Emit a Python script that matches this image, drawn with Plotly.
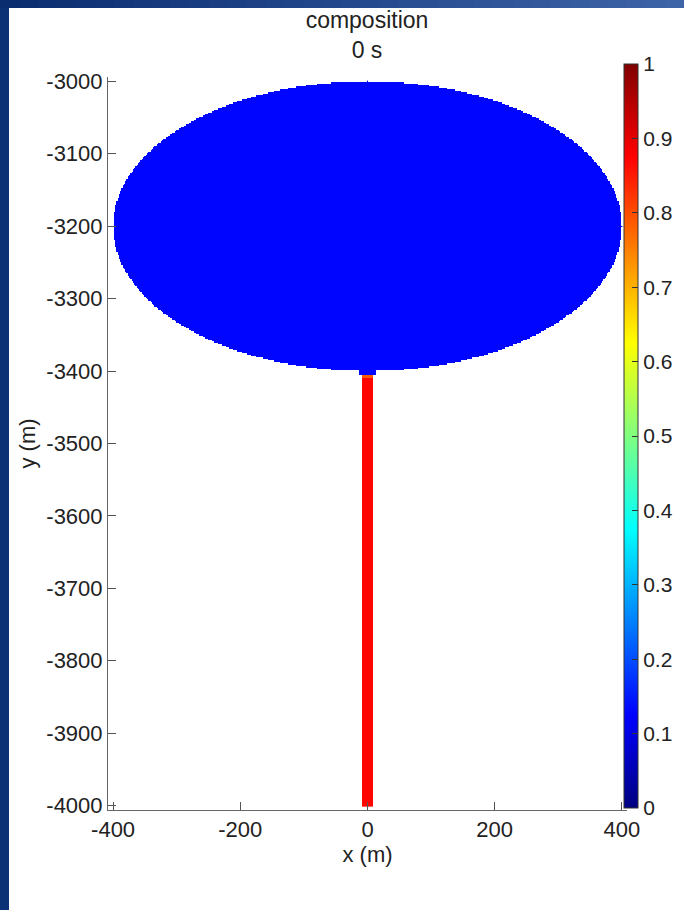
import numpy as np
import plotly.graph_objects as go

# ---- data ----
title_lines = ["composition", "0 s"]
x_ticks = [-400, -200, 0, 200, 400]
x_tick_labels = ["-400", "-200", "0", "200", "400"]
y_ticks = [-3000, -3100, -3200, -3300, -3400, -3500, -3600, -3700, -3800, -3900, -4000]
y_tick_labels = ["-3000", "-3100", "-3200", "-3300", "-3400", "-3500",
                 "-3600", "-3700", "-3800", "-3900", "-4000"]
cbar_ticks = [0, 0.1, 0.2, 0.3, 0.4, 0.5, 0.6, 0.7, 0.8, 0.9, 1]
cbar_tick_labels = ["0", "0.1", "0.2", "0.3", "0.4", "0.5", "0.6", "0.7", "0.8", "0.9", "1"]

# geometry of the composition field (m)
chamber_center = (0.0, -3200.0)
chamber_semi_axes = (400.0, 200.0)
chamber_value = 0.13
neck_halfwidth = 12.0
neck_bottom = -3405.0
conduit_halfwidth = 9.0
conduit_bottom = -4000.0
conduit_top = -3405.0
conduit_value = 0.87
junction_band = (-3409.0, -3405.0)
junction_value = 0.79

grid_step = 2.0
x_extent = (-400.0, 400.0)
y_extent = (-4000.0, -3000.0)

# ---- build the raster field ----
xs = np.arange(x_extent[0], x_extent[1] + grid_step / 2, grid_step)
ys = np.arange(y_extent[0], y_extent[1] + grid_step / 2, grid_step)
X, Y = np.meshgrid(xs, ys)
field = np.full(X.shape, np.nan)

in_chamber = ((X - chamber_center[0]) / chamber_semi_axes[0]) ** 2 + \
             ((Y - chamber_center[1]) / chamber_semi_axes[1]) ** 2 <= 1.0
in_neck = (np.abs(X) <= neck_halfwidth) & (Y >= neck_bottom) & (Y <= chamber_center[1])
in_conduit = (np.abs(X) <= conduit_halfwidth) & (Y >= conduit_bottom) & (Y < conduit_top)
in_junction = in_conduit & (Y >= junction_band[0])

field[in_chamber | in_neck] = chamber_value
field[in_conduit] = conduit_value
field[in_junction] = junction_value

z = np.where(np.isnan(field), None, field).tolist()

jet = [[0.0, "rgb(0,0,128)"], [0.125, "rgb(0,0,255)"], [0.375, "rgb(0,255,255)"],
       [0.625, "rgb(255,255,0)"], [0.875, "rgb(255,0,0)"], [1.0, "rgb(128,0,0)"]]

FONT = "Liberation Sans, Arial, Helvetica, sans-serif"
TXT = "#222"
W, H = 684, 910
ML, MR, MT, MB = 108, 57, 77, 100
PW, PH = W - ML - MR, H - MT - MB


def px_to_paper_x(px):
    return (px - ML) / PW


def px_to_paper_y(py):
    return (H - MB - py) / PH


fig = go.Figure()
fig.add_trace(go.Heatmap(
    x=xs, y=ys, z=z, colorscale=jet, zmin=0, zmax=1, zsmooth=False,
    hoverinfo="skip",
    colorbar=dict(
        thickness=14, thicknessmode="pixels",
        len=744, lenmode="pixels",
        x=px_to_paper_x(624), xanchor="left", xpad=0,
        y=px_to_paper_y(436), yanchor="middle", ypad=0,
        outlinewidth=1, outlinecolor="#333",
        tickmode="array", tickvals=cbar_ticks, ticktext=cbar_tick_labels,
        ticks="inside", ticklen=6, tickcolor="#333", tickwidth=1,
        tickfont=dict(family=FONT, size=21, color=TXT),
    ),
))

axis_common = dict(
    showgrid=False, zeroline=False, showline=True, linecolor="#666", linewidth=1,
    ticks="inside", ticklen=8, tickcolor="#555", tickwidth=1,
    tickfont=dict(family=FONT, size=22, color=TXT), mirror=False,
)

fig.update_xaxes(range=[-408, 408], tickmode="array", tickvals=x_ticks,
                 ticktext=x_tick_labels, title=dict(text="x (m)", standoff=1,
                 font=dict(family=FONT, size=22, color=TXT)), **axis_common)
fig.update_yaxes(range=[-4006, -2994], tickmode="array", tickvals=y_ticks,
                 ticktext=y_tick_labels, title=dict(text="y (m)", standoff=4,
                 font=dict(family=FONT, size=22, color=TXT)), **axis_common)

# slide-style frame: dark left band and gradient top band
shapes = [dict(type="rect", xref="paper", yref="paper",
               x0=px_to_paper_x(0), x1=px_to_paper_x(9),
               y0=px_to_paper_y(H), y1=px_to_paper_y(0),
               fillcolor="rgb(12,50,118)", line=dict(width=0), layer="above")]
n_steps = 36
c0 = np.array([10, 45, 112])
c1 = np.array([62, 100, 168])
for i in range(n_steps):
    t = i / (n_steps - 1)
    c = (c0 + (c1 - c0) * t).astype(int)
    shapes.append(dict(type="rect", xref="paper", yref="paper",
                       x0=px_to_paper_x(W * i / n_steps), x1=px_to_paper_x(W * (i + 1) / n_steps + 1),
                       y0=px_to_paper_y(8), y1=px_to_paper_y(0),
                       fillcolor=f"rgb({c[0]},{c[1]},{c[2]})", line=dict(width=0), layer="above"))

fig.update_layout(
    width=W, height=H,
    margin=dict(l=ML, r=MR, t=MT, b=MB, autoexpand=False),
    paper_bgcolor="white", plot_bgcolor="white",
    title=dict(text="<br>".join(title_lines), x=px_to_paper_x(367), xref="paper",
               xanchor="center", y=1 - 28 / H, yref="container", yanchor="top",
               font=dict(family=FONT, size=23, color=TXT)),
    shapes=shapes,
    font=dict(family=FONT, color=TXT),
)

fig.write_html("out.html", config={"displayModeBar": False},
               post_script="document.body.style.margin='0';document.body.style.overflow='hidden';")
